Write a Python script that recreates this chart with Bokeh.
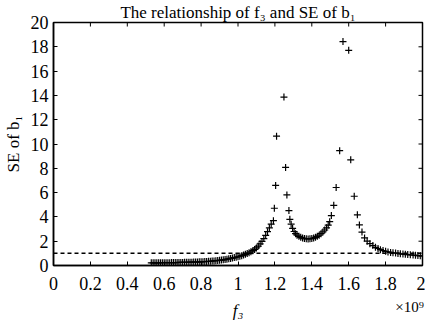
from bokeh.plotting import figure
from bokeh.models import FixedTicker, Span, Range1d, LinearAxis
from bokeh.embed import file_html
from bokeh.resources import INLINE

# f3 values (x 10^9)
f3 = [0.53, 0.54, 0.55, 0.56, 0.57, 0.58, 0.59, 0.60, 0.61, 0.62,
      0.63, 0.64, 0.65, 0.66, 0.67, 0.68, 0.69, 0.70, 0.71, 0.72,
      0.73, 0.74, 0.75, 0.76, 0.77, 0.78, 0.79, 0.80, 0.81, 0.82,
      0.83, 0.84, 0.85, 0.86, 0.87, 0.88, 0.89, 0.90, 0.91, 0.92,
      0.93, 0.94, 0.95, 0.96, 0.97, 0.98, 0.99,
      1.00, 1.01, 1.02, 1.03, 1.04, 1.05, 1.06, 1.07, 1.08, 1.09,
      1.10, 1.11, 1.12, 1.13, 1.14, 1.15, 1.16, 1.17, 1.18,
      1.192, 1.197, 1.204, 1.209, 1.249, 1.258, 1.265, 1.276, 1.281,
      1.288, 1.296, 1.304, 1.312, 1.320, 1.330, 1.340, 1.350, 1.360,
      1.370, 1.380, 1.390, 1.400, 1.410, 1.420, 1.430, 1.440, 1.450,
      1.460, 1.470, 1.480, 1.489, 1.497, 1.506, 1.519, 1.532, 1.551,
      1.569, 1.600, 1.611, 1.630, 1.647, 1.658, 1.672, 1.686, 1.700,
      1.715, 1.731, 1.745, 1.759, 1.772, 1.786, 1.800, 1.813, 1.827,
      1.840, 1.854, 1.867, 1.880, 1.894, 1.907, 1.920, 1.934, 1.949,
      1.962, 1.975, 1.988, 2.000]

# SE of b1
se_b1 = [0.22, 0.22, 0.22, 0.22, 0.22, 0.23, 0.23, 0.23, 0.23, 0.23,
         0.23, 0.24, 0.24, 0.24, 0.24, 0.25, 0.25, 0.25, 0.26, 0.26,
         0.26, 0.27, 0.27, 0.28, 0.28, 0.29, 0.30, 0.30, 0.31, 0.32,
         0.33, 0.34, 0.35, 0.37, 0.38, 0.40, 0.41, 0.43, 0.45, 0.47,
         0.49, 0.52, 0.55, 0.58, 0.61, 0.65, 0.68,
         0.72, 0.76, 0.81, 0.86, 0.92, 0.98, 1.05, 1.13, 1.22, 1.32,
         1.45, 1.60, 1.78, 1.98, 2.22, 2.48, 2.78, 3.10, 3.40,
         3.69, 4.71, 6.59, 10.64, 13.86, 8.07, 5.81, 4.52, 3.80,
         3.40, 3.05, 2.80, 2.62, 2.50, 2.40, 2.32, 2.26, 2.22,
         2.20, 2.19, 2.20, 2.22, 2.26, 2.32, 2.40, 2.50, 2.62,
         2.76, 2.92, 3.10, 3.33, 3.61, 4.11, 4.95, 6.42, 9.45,
         18.43, 17.71, 8.70, 5.70, 4.17, 3.34, 2.75, 2.27, 2.00,
         1.80, 1.64, 1.50, 1.40, 1.30, 1.23, 1.17, 1.12, 1.08,
         1.05, 1.02, 0.99, 0.96, 0.94, 0.92, 0.90, 0.88, 0.86,
         0.84, 0.82, 0.80, 0.78]

threshold = 1.0

x_ticks = [0, 0.2, 0.4, 0.6, 0.8, 1.0, 1.2, 1.4, 1.6, 1.8, 2.0]
x_tick_labels = ["0", "0.2", "0.4", "0.6", "0.8", "1", "1.2", "1.4", "1.6", "1.8", "2"]
y_ticks = [0, 2, 4, 6, 8, 10, 12, 14, 16, 18, 20]
y_tick_labels = ["0", "2", "4", "6", "8", "10", "12", "14", "16", "18", "20"]
x_exponent_label = "\u00d710\u2079"

FONT = "Liberation Serif"
X0, X1, Y0, Y1 = 0, 2, 0, 20
EXP_POS = 1.93   # where the exponent note sits under the x axis

p = figure(width=425, height=323, x_range=Range1d(X0, X1), y_range=Range1d(Y0, Y1),
           output_backend="svg", toolbar_location=None,
           title="The relationship of f\u2083 and SE of b\u2081",
           min_border_left=50, min_border_right=3, min_border_top=22,
           min_border_bottom=58)
p.title.align = "center"
p.title.text_font = FONT
p.title.text_font_size = "17px"
p.title.text_font_style = "normal"
p.title.text_color = "black"
p.title.standoff = 1
p.grid.visible = False
p.outline_line_color = "black"
p.outline_line_width = 1.5
p.background_fill_color = "white"
p.border_fill_color = "white"

xa = p.xaxis[0]
ya = p.yaxis[0]
xa.ticker = FixedTicker(ticks=x_ticks)
xa.major_label_overrides = {t: l for t, l in zip(x_ticks, x_tick_labels)}
ya.ticker = FixedTicker(ticks=y_ticks)
ya.major_label_overrides = {t: l for t, l in zip(y_ticks, y_tick_labels)}

for ax in (xa, ya):
    ax.major_tick_in = 4
    ax.major_tick_out = 0
    ax.minor_tick_line_color = None
    ax.axis_line_width = 1.5
    ax.major_tick_line_width = 1
    ax.major_label_text_font = FONT
    ax.major_label_text_font_size = "18px"
    ax.major_label_text_color = "black"
    ax.axis_label_text_font = FONT
    ax.axis_label_text_font_size = "17px"
    ax.axis_label_text_font_style = "normal"
    ax.axis_label_text_color = "black"

xa.major_label_standoff = 11

# second (bare) axis below: exponent note as its only tick label, x title as its label
xt = LinearAxis(ticker=FixedTicker(ticks=[EXP_POS]),
                major_label_overrides={EXP_POS: x_exponent_label},
                axis_line_color=None, major_tick_line_color=None,
                minor_tick_line_color=None, major_tick_in=0, major_tick_out=0,
                major_label_standoff=6, major_label_text_font=FONT,
                major_label_text_font_size="15px", major_label_text_color="black",
                axis_label="f\u2083", axis_label_text_font=FONT,
                axis_label_text_font_size="17px", axis_label_text_font_style="italic",
                axis_label_text_color="black", axis_label_standoff=-17)
p.add_layout(xt, "below")

ya.axis_label = "SE of b\u2081"
ya.axis_label_standoff = 5
ya.major_label_standoff = 5

# inward ticks on the top and right edges (box), from the same tick lists
tick_dx = 4 / 185.0
tick_dy = 4 / 12.1
p.segment(x0=x_ticks, y0=[Y1] * len(x_ticks), x1=x_ticks, y1=[Y1 - tick_dy] * len(x_ticks),
          line_color="black", line_width=1)
p.segment(x0=[X1] * len(y_ticks), y0=y_ticks, x1=[X1 - tick_dx] * len(y_ticks), y1=y_ticks,
          line_color="black", line_width=1)

p.scatter(x=f3, y=se_b1, marker="cross", size=7, line_color="black", line_width=1.2)
p.add_layout(Span(location=threshold, dimension="width", line_color="black",
                  line_dash="4 3", line_width=1.5))

open("out.html", "w").write(file_html(p, INLINE))
